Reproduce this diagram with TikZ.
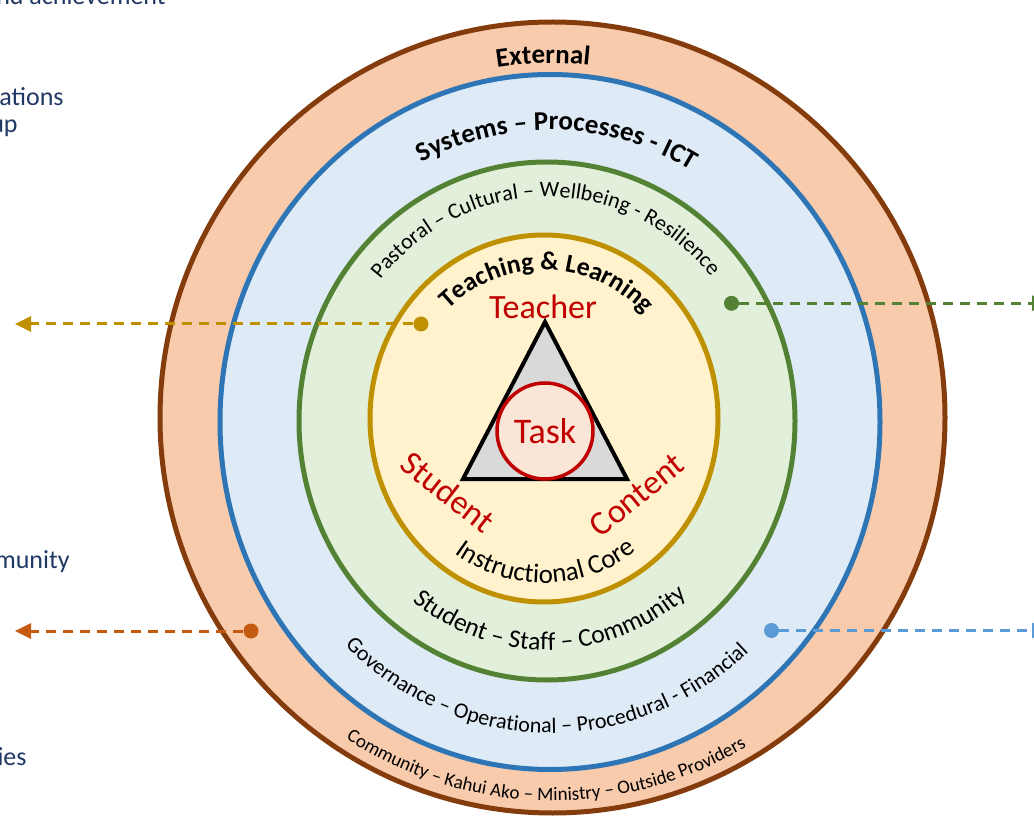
\documentclass[tikz,border=0pt]{standalone}
\usepackage{fontspec}
\setmainfont{Carlito}
\usetikzlibrary{arrows.meta,calc,decorations.text}
\definecolor{extline}{RGB}{132,60,12}
\definecolor{extfill}{RGB}{248,203,173}
\definecolor{sysline}{RGB}{46,117,182}
\definecolor{sysfill}{RGB}{222,235,247}
\definecolor{pasline}{RGB}{84,130,53}
\definecolor{pasfill}{RGB}{226,239,218}
\definecolor{tlline}{RGB}{191,144,0}
\definecolor{tlfill}{RGB}{255,242,204}
\definecolor{corered}{RGB}{192,0,0}
\definecolor{taskfill}{RGB}{251,229,214}
\definecolor{trigrey}{RGB}{217,217,217}
\definecolor{extarrow}{RGB}{197,90,17}
\definecolor{sysarrow}{RGB}{91,155,213}
\definecolor{navytext}{RGB}{32,56,100}
\newcommand{\ringtext}[7]{%
  \path[decorate,decoration={text along path,text align=center,
        text={|#6|#7}}]
    ($(#1)+(#4:#2 and #3)$) arc[start angle=#4,end angle=#5,
        x radius=#2,y radius=#3];}
\tikzset{
  ring/.style={line width=2.5pt},
  dot/.style={circle,inner sep=0pt,minimum size=7.5pt},
  link/.style={line width=1.5pt,dash pattern=on 5pt off 3.5pt,
               -{Triangle[length=8pt,width=7.5pt]}},
  triside/.style={draw=black,fill=trigrey,line width=2pt,line join=miter},
  taskcirc/.style={circle,draw=corered,fill=taskfill,line width=1.75pt,
                   minimum size=48pt,inner sep=0pt,text=corered,
                   font=\fontsize{18}{20}\selectfont},
  corelabel/.style={text=corered,inner sep=0pt,font=\fontsize{17}{19}\selectfont},
  sidetext/.style={anchor=base east,text=navytext,inner sep=0pt,
                   font=\fontsize{13}{15}\selectfont},
}
\begin{document}
\begin{tikzpicture}[x=0.5pt,y=0.5pt]
  \useasboundingbox (0,0) rectangle (1034,-818);
  \clip (0,0) rectangle (1034,-818);
  % centres of the rings
  \coordinate (cext) at (552.5,-417.5);
  \coordinate (csys) at (550,-422);
  \coordinate (cpas) at (547,-421);
  \coordinate (ctl)  at (544,-418.5);
  % rings, outside in
  \foreach \c/\rx/\ry/\ln/\fl in {cext/392.5/395.5/extline/extfill,
      csys/330/347.5/sysline/sysfill,cpas/248/259/pasline/pasfill,
      ctl/174/183.5/tlline/tlfill}
    {\draw[ring,draw=\ln,fill=\fl] (\c) ellipse [x radius=\rx,y radius=\ry];}
  % ring texts
  \ringtext{cext}{351}{354}{171.5}{11.5}{\bfseries\fontsize{13.5}{16}\selectfont}{External}
  \ringtext{csys}{278}{292}{168.5}{8.5}{\bfseries\fontsize{13.5}{16}\selectfont}{Systems – Processes - ICT}
  \ringtext{cpas}{214.5}{224}{170.5}{10.5}{\fontsize{11}{13}\selectfont}{Pastoral – Cultural – Wellbeing - Resilience}
  \ringtext{ctl}{141}{148.5}{168.6}{8.6}{\bfseries\fontsize{13}{15}\selectfont}{Teaching {\&} Learning}
  \ringtext{ctl}{156}{164.5}{190.7}{350.7}{\fontsize{13.5}{16}\selectfont}{Instructional Core}
  \ringtext{cpas}{219}{229}{191}{351}{\fontsize{12.8}{15}\selectfont}{Student – Staff – Community}
  \ringtext{csys}{295.5}{311}{189.2}{349.2}{\fontsize{11}{13}\selectfont}{Governance – Operational – Procedural - Financial}
  \ringtext{cext}{380}{383}{188.9}{348.9}{\fontsize{9.5}{11}\selectfont}{Community – Kahui Ako – Ministry – Outside Providers}
  % instructional core
  \coordinate (tteach) at (545,-322);
  \coordinate (tstud) at (463,-479);
  \coordinate (tcont) at (627,-479);
  \draw[triside] (tteach) -- (tstud) -- (tcont) -- cycle;
  \node[taskcirc] (task) at (545,-431) {Task};
  \node[corelabel] (teacher) at (543,-307) {Teacher};
  \node[corelabel,rotate=-38] (student) at (448,-492) {Student};
  \node[corelabel,rotate=39] (content) at (637,-495) {Content};
  % links out of the rings
  \node[dot,fill=tlline] (tldot) at (421,-324) {};
  \node[dot,fill=pasline] (pasdot) at (731.5,-303.3) {};
  \node[dot,fill=extarrow] (extdot) at (251,-631) {};
  \node[dot,fill=sysarrow] (sysdot) at (771.5,-630.5) {};
  \coordinate (tlend) at (15,-324);
  \coordinate (pasend) at (1048,-303.3);
  \coordinate (extend) at (15,-631);
  \coordinate (sysend) at (1048,-630.5);
  \foreach \d/\e/\col in {tldot/tlend/tlline,pasdot/pasend/pasline,
      extdot/extend/extarrow,sysdot/sysend/sysarrow}
    {\draw[link,draw=\col] (\d) -- (\e);}
  % side texts cut by the frame
  \foreach \t/\x/\y [count=\i] in {nd achievement/166/5,ations/64/106,
      up/18/133,munity/70/568,ies/27/765}
    {\node[sidetext] (side\i) at (\x,-\y) {\t};}
\end{tikzpicture}
\end{document}
